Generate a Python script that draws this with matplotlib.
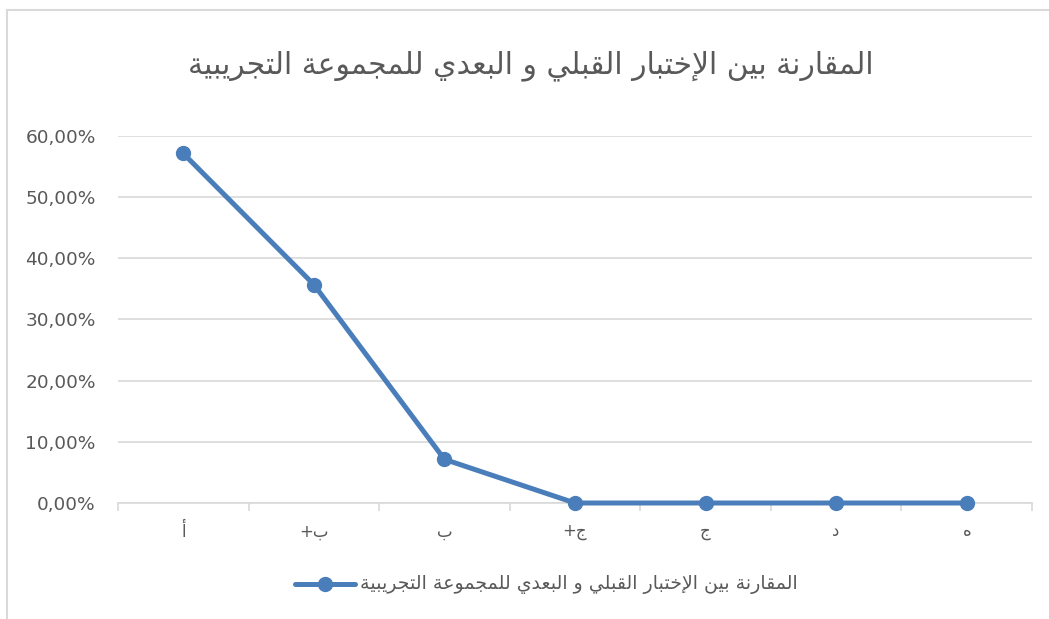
import matplotlib
matplotlib.use("Agg")
import matplotlib.pyplot as plt
from matplotlib.lines import Line2D
from matplotlib.ticker import FuncFormatter, MultipleLocator

# ---------------- data ----------------
categories = ["أ", "ب+", "ب", "ج+", "ج", "د", "ه"]
values = [0.5714, 0.3571, 0.0714, 0.0, 0.0, 0.0, 0.0]
title_text = "المقارنة بين الإختبار القبلي و البعدي للمجموعة التجريبية"
series_name = "المقارنة بين الإختبار القبلي و البعدي للمجموعة التجريبية"

# ---------------- minimal Arabic shaping ----------------
FORMS = {
    "\u0627": (0xFE8D, 0xFE8E, None, None),
    "\u0623": (0xFE83, 0xFE84, None, None),
    "\u0625": (0xFE87, 0xFE88, None, None),
    "\u0628": (0xFE8F, 0xFE90, 0xFE91, 0xFE92),
    "\u0629": (0xFE93, 0xFE94, None, None),
    "\u062A": (0xFE95, 0xFE96, 0xFE97, 0xFE98),
    "\u062C": (0xFE9D, 0xFE9E, 0xFE9F, 0xFEA0),
    "\u062E": (0xFEA5, 0xFEA6, 0xFEA7, 0xFEA8),
    "\u062F": (0xFEA9, 0xFEAA, None, None),
    "\u0631": (0xFEAD, 0xFEAE, None, None),
    "\u0639": (0xFEC9, 0xFECA, 0xFECB, 0xFECC),
    "\u0642": (0xFED5, 0xFED6, 0xFED7, 0xFED8),
    "\u0644": (0xFEDD, 0xFEDE, 0xFEDF, 0xFEE0),
    "\u0645": (0xFEE1, 0xFEE2, 0xFEE3, 0xFEE4),
    "\u0646": (0xFEE5, 0xFEE6, 0xFEE7, 0xFEE8),
    "\u0647": (0xFEE9, 0xFEEA, 0xFEEB, 0xFEEC),
    "\u0648": (0xFEED, 0xFEEE, None, None),
    "\u064A": (0xFEF1, 0xFEF2, 0xFEF3, 0xFEF4),
}
LAMALEF = {
    "\u0627": (0xFEFB, 0xFEFC, None, None),
    "\u0623": (0xFEF7, 0xFEF8, None, None),
    "\u0625": (0xFEF9, 0xFEFA, None, None),
}


def shape(text):
    toks = []
    i = 0
    while i < len(text):
        ch = text[i]
        if ch == "\u0644" and i + 1 < len(text) and text[i + 1] in LAMALEF:
            toks.append(LAMALEF[text[i + 1]])
            i += 2
            continue
        toks.append(FORMS.get(ch, ch))
        i += 1
    out = []
    n = len(toks)
    for k, t in enumerate(toks):
        if isinstance(t, str):
            out.append(t)
            continue
        prev = toks[k - 1] if k > 0 else None
        nxt = toks[k + 1] if k + 1 < n else None
        jp = isinstance(prev, tuple) and prev[2] is not None
        jn = t[2] is not None and isinstance(nxt, tuple)
        if jp and jn:
            c = t[3]
        elif jp:
            c = t[1]
        elif jn:
            c = t[2]
        else:
            c = t[0]
        out.append(chr(c))
    return "".join(out[::-1])


# ---------------- figure ----------------
W, H = 1049, 619
fig = plt.figure(figsize=(W / 100, H / 100), dpi=100)
fig.patch.set_facecolor("white")

ax = fig.add_axes([118 / W, 1 - 503 / H, (1032 - 118) / W, (503 - 136) / H])
line_color = "#4a7ebb"
x = list(range(len(categories)))
ax.plot(x, values, color=line_color, lw=3.6, marker="o", ms=10,
        markerfacecolor=line_color, markeredgecolor=line_color,
        solid_capstyle="round", zorder=3, clip_on=False)

ax.set_xlim(-0.5, len(categories) - 0.5)
ax.set_ylim(0, 0.6)
ax.yaxis.set_major_locator(MultipleLocator(0.1))
ax.yaxis.set_major_formatter(FuncFormatter(
    lambda v, p: f"{v * 100:.2f}%".replace(".", ",")))
ax.grid(axis="y", color="#d9d9d9", lw=1.2)
ax.set_axisbelow(True)
for s in ["top", "right", "left"]:
    ax.spines[s].set_visible(False)
ax.spines["bottom"].set_color("#d9d9d9")
ax.spines["bottom"].set_linewidth(1.2)
ax.tick_params(axis="y", length=0, labelsize=13.3, labelcolor="#595959", pad=16)
ax.set_xticks([i + 0.5 for i in range(-1, len(categories))])
ax.set_xticklabels([])
ax.set_xticks(x, minor=True)
ax.set_xticklabels([shape(c) for c in categories], minor=True)
ax.tick_params(axis="x", which="major", length=6, color="#d9d9d9", width=1.2)
ax.tick_params(axis="x", which="minor", length=0, labelsize=12,
               labelcolor="#595959", pad=14)

# chart border (left and top)
fig.add_artist(Line2D([7 / W, 7 / W], [0, 1 - 10 / H], color="#d9d9d9", lw=1.5))
fig.add_artist(Line2D([7 / W, 1], [1 - 10 / H, 1 - 10 / H], color="#d9d9d9", lw=1.5))

# title
fig.text(531 / W, 1 - 66 / H, shape(title_text), ha="center", va="center",
         fontsize=21.4, color="#595959", family="DejaVu Sans")

# legend
ly = 1 - 584 / H
fig.add_artist(Line2D([295 / W, 355 / W], [ly, ly], color=line_color, lw=3.6,
                      solid_capstyle="round"))
fig.add_artist(Line2D([325 / W], [ly], color=line_color, marker="o", ms=10, lw=0))
fig.text(360 / W, ly, shape(series_name), ha="left", va="center",
         fontsize=13.6, color="#595959", family="DejaVu Sans")

fig.savefig("out.png", dpi=100)
